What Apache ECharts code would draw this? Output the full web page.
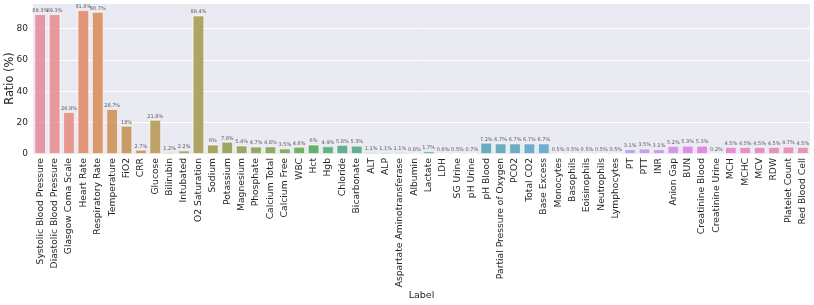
<!DOCTYPE html>
<html>
<head>
<meta charset="utf-8">
<script src="https://cdn.jsdelivr.net/npm/echarts@6/dist/echarts.min.js"></script>
<style>html,body{margin:0;padding:0;background:#fff;}#chart{width:814px;height:305px;}</style>
</head>
<body>
<div id="chart"></div>
<script>
const categories = ["Systolic Blood Pressure","Diastolic Blood Pressure","Glasgow Coma Scale","Heart Rate","Respiratory Rate","Temperature","FiO2","CRR","Glucose","Bilirubin","Intubated","O2 Saturation","Sodium","Potassium","Magnesium","Phosphate","Calcium Total","Calcium Free","WBC","Hct","Hgb","Chloride","Bicarbonate","ALT","ALP","Aspartate Aminotransferase","Albumin","Lactate","LDH","SG Urine","pH Urine","pH Blood","Partial Pressure of Oxygen","PCO2","Total CO2","Base Excess","Monocytes","Basophils","Eoisinophils","Neutrophils","Lymphocytes","PT","PTT","INR","Anion Gap","BUN","Creatinine Blood","Creatinine Urine","MCH","MCHC","MCV","RDW","Platelet Count","Red Blood Cell"];
const ratios = [89.3,89.3,26.8,91.8,90.7,28.7,18,2.7,21.8,1.2,2.2,88.4,6,7.8,5.4,4.7,4.8,3.5,4.6,6,4.9,5.8,5.3,1.1,1.1,1.1,0.8,1.7,0.6,0.5,0.7,7.2,6.7,6.7,6.7,6.7,0.5,0.5,0.5,0.5,0.5,3.1,3.5,3.1,5.2,5.3,5.3,0.2,4.5,4.5,4.5,4.5,4.7,4.5];
const yTicks = [0,20,40,60,80];

// seaborn husl palette (desaturated 0.75)
const M = [[3.2406,-1.5372,-0.4986],[-0.9689,1.8758,0.0415],[0.0557,-0.2040,1.0570]];
const refU = 0.19784, refV = 0.46834, kappa = 903.3;
function maxChroma(L,H){
  const hr = H*Math.PI/180, sinH=Math.sin(hr), cosH=Math.cos(hr);
  const sub1 = Math.pow(L+16,3)/1560896;
  const sub2 = sub1>0.008856?sub1:L/903.3;
  let res = Infinity;
  for(const [m1,m2,m3] of M){
    const top=(0.99915*m1+1.05122*m2+1.14460*m3)*sub2;
    const rb=0.86330*m3-0.17266*m2, lb=0.12949*m3-0.38848*m1;
    const bottom=(rb*sinH+lb*cosH)*sub2;
    for(const t of [0,1]){
      const C=L*(top-1.05122*t)/(bottom+0.17266*sinH*t);
      if(C>0&&C<res) res=C;
    }
  }
  return res;
}
function huslToRgb(H,S,L){
  const C = maxChroma(L,H)/100*S;
  const hr=H*Math.PI/180, U=C*Math.cos(hr), V=C*Math.sin(hr);
  const Y = L>8?Math.pow((L+16)/116,3):L/kappa;
  const vu=U/(13*L)+refU, vv=V/(13*L)+refV;
  const X=-(9*Y*vu)/((vu-4)*vv-vu*vv);
  const Z=(9*Y-15*vv*Y-vv*X)/(3*vv);
  return M.map(r=>{const c=r[0]*X+r[1]*Y+r[2]*Z;const v=c<=0.0031308?12.92*c:1.055*Math.pow(c,1/2.4)-0.055;return Math.min(1,Math.max(0,v));});
}
function rgb2hls(r,g,b){const mx=Math.max(r,g,b),mn=Math.min(r,g,b);const l=(mx+mn)/2;if(mx===mn)return[0,l,0];const d=mx-mn;const s=l<=0.5?d/(mx+mn):d/(2-mx-mn);let h;if(r===mx)h=(g-b)/d;else if(g===mx)h=2+(b-r)/d;else h=4+(r-g)/d;h=((h/6)%1+1)%1;return[h,l,s];}
function v(m1,m2,hue){hue=((hue%1)+1)%1;if(hue<1/6)return m1+(m2-m1)*hue*6;if(hue<0.5)return m2;if(hue<2/3)return m1+(m2-m1)*(2/3-hue)*6;return m1;}
function hls2rgb(h,l,s){if(s===0)return[l,l,l];const m2=l<=0.5?l*(1+s):l+s-l*s;const m1=2*l-m2;return[v(m1,m2,h+1/3),v(m1,m2,h),v(m1,m2,h-1/3)];}
function palette(n){
  const out=[];
  for(let i=0;i<n;i++){
    const h=((i/n+0.01)%1)*359;
    const rgb=huslToRgb(h,0.9*99,0.65*99);
    const [hh,ll,ss]=rgb2hls(...rgb);
    const d=hls2rgb(hh,ll,ss*0.75);
    out.push('rgb('+d.map(x=>Math.round(x*255)).join(',')+')');
  }
  return out;
}
const colors = palette(categories.length);

const chart = echarts.init(document.getElementById('chart'));
const font = 'DejaVu Sans';
chart.setOption({
  animation:false,
  textStyle:{fontFamily:font},
  grid:{left:33,right:4,top:3,bottom:151,containLabel:false,outerBoundsMode:'none',show:true,backgroundColor:'#EAEAF2',borderWidth:0},
  xAxis:{
    type:'category',data:categories,
    axisLine:{show:false},axisTick:{show:false},
    axisLabel:{rotate:90,interval:0,fontSize:9.2,color:'#262626',margin:4,fontFamily:font},
    name:'Label',nameLocation:'middle',nameGap:137,nameMoveOverlap:false,nameTextStyle:{fontSize:9.5,color:'#262626',fontFamily:font}
  },
  yAxis:{
    type:'value',min:0,max:96.4,interval:20,
    axisLine:{show:false},axisTick:{show:false},
    splitLine:{lineStyle:{color:'#ffffff',width:1}},
    axisLabel:{fontSize:9,color:'#262626',margin:5,fontFamily:font,showMaxLabel:false,
      formatter:val=>yTicks.includes(val)?String(val):''},
    name:'Ratio (%)',nameLocation:'middle',nameGap:17,nameMoveOverlap:false,nameTextStyle:{fontSize:11.4,color:'#262626',fontFamily:font}
  },
  series:[{
    type:'bar',
    data:ratios.map((r,i)=>({value:r,itemStyle:{color:colors[i]}})),
    barWidth:'80%',
    itemStyle:{borderColor:'#ffffff',borderWidth:0.8,opacity:0.8},
    label:{show:true,position:'top',distance:1,fontSize:5,color:'#333333',fontFamily:font,formatter:p=>p.value+'%'}
  }]
});
</script>
</body>
</html>
